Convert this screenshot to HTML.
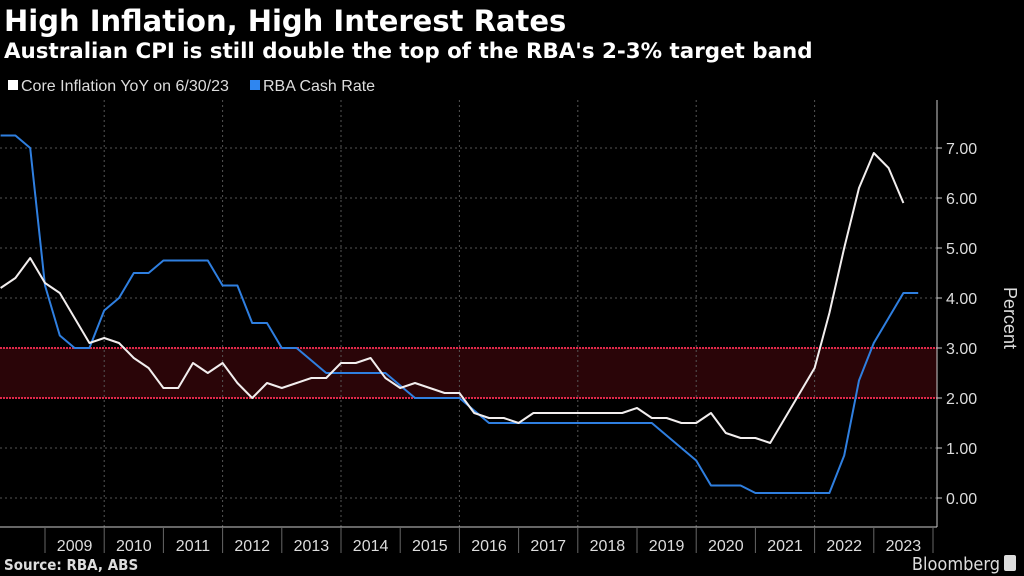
<!DOCTYPE html>
<html><head><meta charset="utf-8"><style>
body{margin:0;background:#000;width:1024px;height:576px;overflow:hidden;font-family:"Liberation Sans","DejaVu Sans",sans-serif;color:#fff}
svg{position:absolute;left:0;top:0}
</style></head><body>
<svg width="1024" height="576">
<text x="4" y="31" font-size="29" font-weight="bold" fill="#fff" font-family="DejaVu Sans, sans-serif">High Inflation, High Interest Rates</text>
<text x="4" y="58" font-size="21.4" font-weight="bold" fill="#fff" font-family="DejaVu Sans, sans-serif">Australian CPI is still double the top of the RBA's 2-3% target band</text>
<g>
<rect x="8" y="80" width="10" height="10" fill="#fff"/>
<text x="21" y="91" font-size="16" fill="#ddd">Core Inflation YoY on 6/30/23</text>
<rect x="250" y="80" width="10" height="10" fill="#2f86f0"/>
<text x="263" y="91" font-size="16" fill="#ddd">RBA Cash Rate</text>
</g>
<g id="plot"></g>
<text x="4" y="570" font-size="15" font-weight="bold" fill="#ddd" font-family="DejaVu Sans Condensed, DejaVu Sans, sans-serif">Source: RBA, ABS</text>
<text x="1000" y="570" font-size="18" fill="#ddd" text-anchor="end" font-family="DejaVu Sans Condensed, DejaVu Sans, sans-serif">Bloomberg</text>
<rect x="1004" y="555" width="12" height="16" rx="2" fill="#ddd"/>
</svg>
<script>
const years=[2009,2010,2011,2012,2013,2014,2015,2016,2017,2018,2019,2020,2021,2022,2023];
const yTicks=[0,1,2,3,4,5,6,7];
const coreInflation=[4.2,4.4,4.8,4.3,4.1,3.6,3.1,3.2,3.1,2.8,2.6,2.2,2.2,2.7,2.5,2.7,2.3,2.0,2.3,2.2,2.3,2.4,2.4,2.7,2.7,2.8,2.4,2.2,2.3,2.2,2.1,2.1,1.7,1.6,1.6,1.5,1.7,1.7,1.7,1.7,1.7,1.7,1.7,1.8,1.6,1.6,1.5,1.5,1.7,1.3,1.2,1.2,1.1,1.6,2.1,2.6,3.7,5.0,6.2,6.9,6.6,5.9];
const cashRate=[7.25,7.25,7.0,4.25,3.25,3.0,3.0,3.75,4.0,4.5,4.5,4.75,4.75,4.75,4.75,4.25,4.25,3.5,3.5,3.0,3.0,2.75,2.5,2.5,2.5,2.5,2.5,2.25,2.0,2.0,2.0,2.0,1.75,1.5,1.5,1.5,1.5,1.5,1.5,1.5,1.5,1.5,1.5,1.5,1.5,1.25,1.0,0.75,0.25,0.25,0.25,0.1,0.1,0.1,0.1,0.1,0.1,0.85,2.35,3.1,3.6,4.1,4.1];
const startT=2008.25, stepT=0.25, band=[2,3];
const NS="http://www.w3.org/2000/svg";
const X=t=>45+(t-2009)*59.2;
const Y=v=>498-v*50;
const g=document.getElementById('plot');
function mk(tag,attrs,parent){const e=document.createElementNS(NS,tag);for(const k in attrs)e.setAttribute(k,attrs[k]);(parent||g).appendChild(e);return e;}
const L=0,R=937,T=100,B=527;
const bd=mk('rect',{x:L,y:Y(band[1]),width:R-L,height:Y(band[0])-Y(band[1]),fill:'#2a0508'});


yTicks.forEach(v=>{
 const isBand=band.includes(v);
 const l=mk('line',{x1:L,x2:R,y1:Y(v),y2:Y(v),stroke:isBand?'#e0284a':'#555','stroke-width':isBand?2:1,'stroke-dasharray':isBand?'2,1':'2,3'});
 
 
 const tk=mk('line',{x1:R,x2:R+5,y1:Y(v),y2:Y(v),stroke:'#ccc'});
 
 
 const tx=mk('text',{x:R+9,y:Y(v)+6,'font-size':16,fill:'#ddd'});
 tx.textContent=v.toFixed(2);
 
 
});
years.forEach(y=>{
 if((y-2010)%2===0){const l=mk('line',{x1:X(y),x2:X(y),y1:T,y2:B,stroke:'#555','stroke-dasharray':'2,3'});
 
 }
});
const ax=mk('line',{x1:0,x2:R,y1:B,y2:B,stroke:'#ccc'});


const ay=mk('line',{x1:R,x2:R,y1:T,y2:B,stroke:'#ccc'});


const yt=mk('text',{x:1004,y:318,'font-size':18,fill:'#ddd','text-anchor':'middle',transform:'rotate(90 1004 318)'});
yt.textContent='Percent';


years.concat([2024]).forEach(y=>{
 const s=mk('line',{x1:X(y),x2:X(y),y1:B,y2:553,stroke:'#666'});
 
 
});
years.forEach(y=>{
 const t=mk('text',{x:X(y+0.5),y:551,'font-size':16,fill:'#ddd','text-anchor':'middle'});
 t.textContent=y;
 
 
});
function line(vals,color,name){
 const d=vals.map((v,i)=>(i?'L':'M')+X(startT+i*stepT).toFixed(1)+','+Y(v).toFixed(1)).join('');
 const p=mk('path',{d,fill:'none',stroke:color,'stroke-width':2,'stroke-linejoin':'round'});
 
 
}
line(cashRate,'#2f7fe0','rba-cash-rate-line');
line(coreInflation,'#f2eeee','core-inflation-line');
</script>
</body></html>
